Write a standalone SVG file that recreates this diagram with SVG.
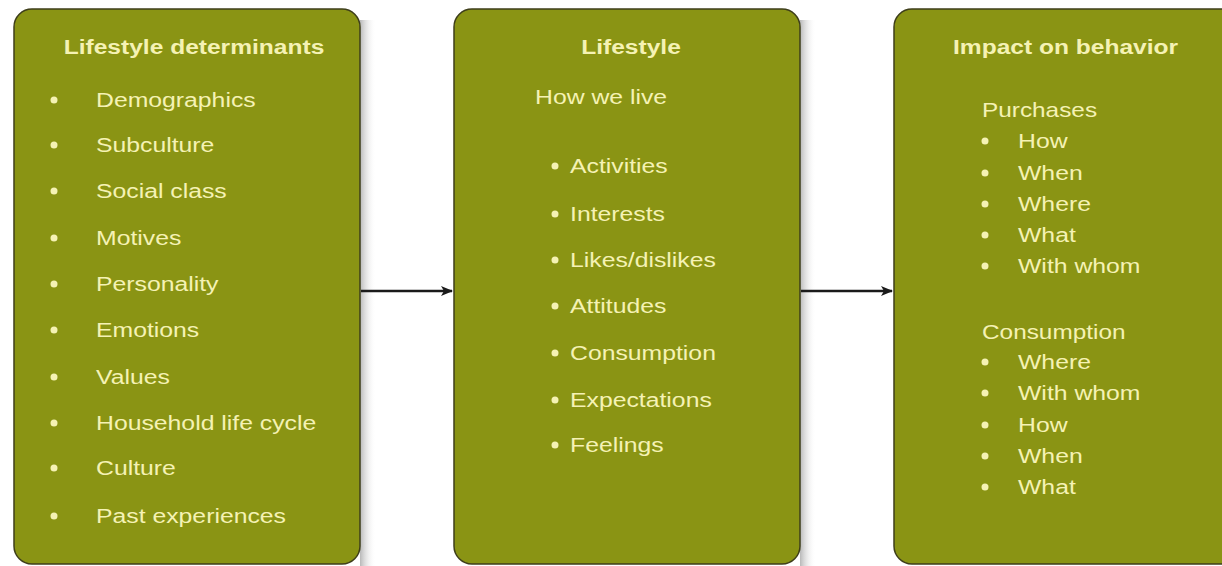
<svg xmlns="http://www.w3.org/2000/svg" width="1222" height="566" viewBox="0 0 1222 566">
<defs>
<linearGradient id="sh" x1="0" x2="1" y1="0" y2="0"><stop offset="0" stop-color="#9a9a9a" stop-opacity="0.7"/><stop offset="1" stop-color="#ffffff" stop-opacity="0"/></linearGradient>
<marker id="ah" markerWidth="12" markerHeight="10" refX="11" refY="5" orient="auto" markerUnits="userSpaceOnUse"><path d="M0,0 L12,5 L0,10 L3,5 Z" fill="#1a1a1a"/></marker>
</defs>
<style>
.box{fill:#8a9414;stroke:#3e3e1a;stroke-width:1.5}
.t{font-family:"Liberation Sans",Arial,sans-serif;fill:#f5f2b4}
.h{font-size:21px;font-weight:bold}
.i{font-size:21px}
.b{fill:#f5f2b4}
.c{stroke:#1a1a1a;stroke-width:2.5;fill:none}
</style>
<rect width="1222" height="566" fill="#ffffff"/>
<rect x="360" y="20" width="16" height="546" fill="url(#sh)"/>
<rect x="800" y="20" width="16" height="546" fill="url(#sh)"/>
<g id="n1">
<rect class="box" x="14" y="9" width="346" height="555" rx="18"/>
<g transform="translate(194 0) scale(1.17 1)"><text class="t h" x="0" y="54" text-anchor="middle">Lifestyle determinants</text></g>
<g class="b"><circle cx="54" cy="100" r="3.5"/><circle cx="54" cy="145" r="3.5"/><circle cx="54" cy="191" r="3.5"/><circle cx="54" cy="238" r="3.5"/><circle cx="54" cy="284" r="3.5"/><circle cx="54" cy="330" r="3.5"/><circle cx="54" cy="377" r="3.5"/><circle cx="54" cy="423" r="3.5"/><circle cx="54" cy="468" r="3.5"/><circle cx="54" cy="516" r="3.5"/></g>
<g transform="translate(96 0) scale(1.18 1)">
<text class="t i" x="0" y="107">Demographics</text>
<text class="t i" x="0" y="152">Subculture</text>
<text class="t i" x="0" y="198">Social class</text>
<text class="t i" x="0" y="245">Motives</text>
<text class="t i" x="0" y="291">Personality</text>
<text class="t i" x="0" y="337">Emotions</text>
<text class="t i" x="0" y="384">Values</text>
<text class="t i" x="0" y="430">Household life cycle</text>
<text class="t i" x="0" y="475">Culture</text>
<text class="t i" x="0" y="523">Past experiences</text>
</g>
</g>
<g id="n2">
<rect class="box" x="454" y="9" width="346" height="555" rx="18"/>
<g transform="translate(631 0) scale(1.17 1)"><text class="t h" x="0" y="54" text-anchor="middle">Lifestyle</text></g>
<g transform="translate(535 0) scale(1.18 1)"><text class="t i" x="0" y="104">How we live</text></g>
<g class="b"><circle cx="555" cy="166" r="3.5"/><circle cx="555" cy="214" r="3.5"/><circle cx="555" cy="260" r="3.5"/><circle cx="555" cy="306" r="3.5"/><circle cx="555" cy="353" r="3.5"/><circle cx="555" cy="400" r="3.5"/><circle cx="555" cy="445" r="3.5"/></g>
<g transform="translate(570 0) scale(1.18 1)">
<text class="t i" x="0" y="173">Activities</text>
<text class="t i" x="0" y="221">Interests</text>
<text class="t i" x="0" y="267">Likes/dislikes</text>
<text class="t i" x="0" y="313">Attitudes</text>
<text class="t i" x="0" y="360">Consumption</text>
<text class="t i" x="0" y="407">Expectations</text>
<text class="t i" x="0" y="452">Feelings</text>
</g>
</g>
<g id="n3">
<rect class="box" x="894" y="9" width="346" height="555" rx="18"/>
<g transform="translate(953 0) scale(1.17 1)"><text class="t h" x="0" y="54">Impact on behavior</text></g>
<g class="b"><circle cx="985" cy="141" r="3.5"/><circle cx="985" cy="173" r="3.5"/><circle cx="985" cy="204" r="3.5"/><circle cx="985" cy="235" r="3.5"/><circle cx="985" cy="266" r="3.5"/><circle cx="985" cy="362" r="3.5"/><circle cx="985" cy="393" r="3.5"/><circle cx="985" cy="425" r="3.5"/><circle cx="985" cy="456" r="3.5"/><circle cx="985" cy="487" r="3.5"/></g>
<g transform="translate(982 0) scale(1.16 1)">
<text class="t i" x="0" y="117">Purchases</text>
<text class="t i" x="0" y="339">Consumption</text>
</g>
<g transform="translate(1018 0) scale(1.18 1)">
<text class="t i" x="0" y="148">How</text>
<text class="t i" x="0" y="180">When</text>
<text class="t i" x="0" y="211">Where</text>
<text class="t i" x="0" y="242">What</text>
<text class="t i" x="0" y="273">With whom</text>
<text class="t i" x="0" y="369">Where</text>
<text class="t i" x="0" y="400">With whom</text>
<text class="t i" x="0" y="432">How</text>
<text class="t i" x="0" y="463">When</text>
<text class="t i" x="0" y="494">What</text>
</g>
</g>
<g id="connectors">
<line class="c" x1="361" y1="291" x2="452" y2="291" marker-end="url(#ah)"/>
<line class="c" x1="801" y1="291" x2="892" y2="291" marker-end="url(#ah)"/>
</g>
</svg>
